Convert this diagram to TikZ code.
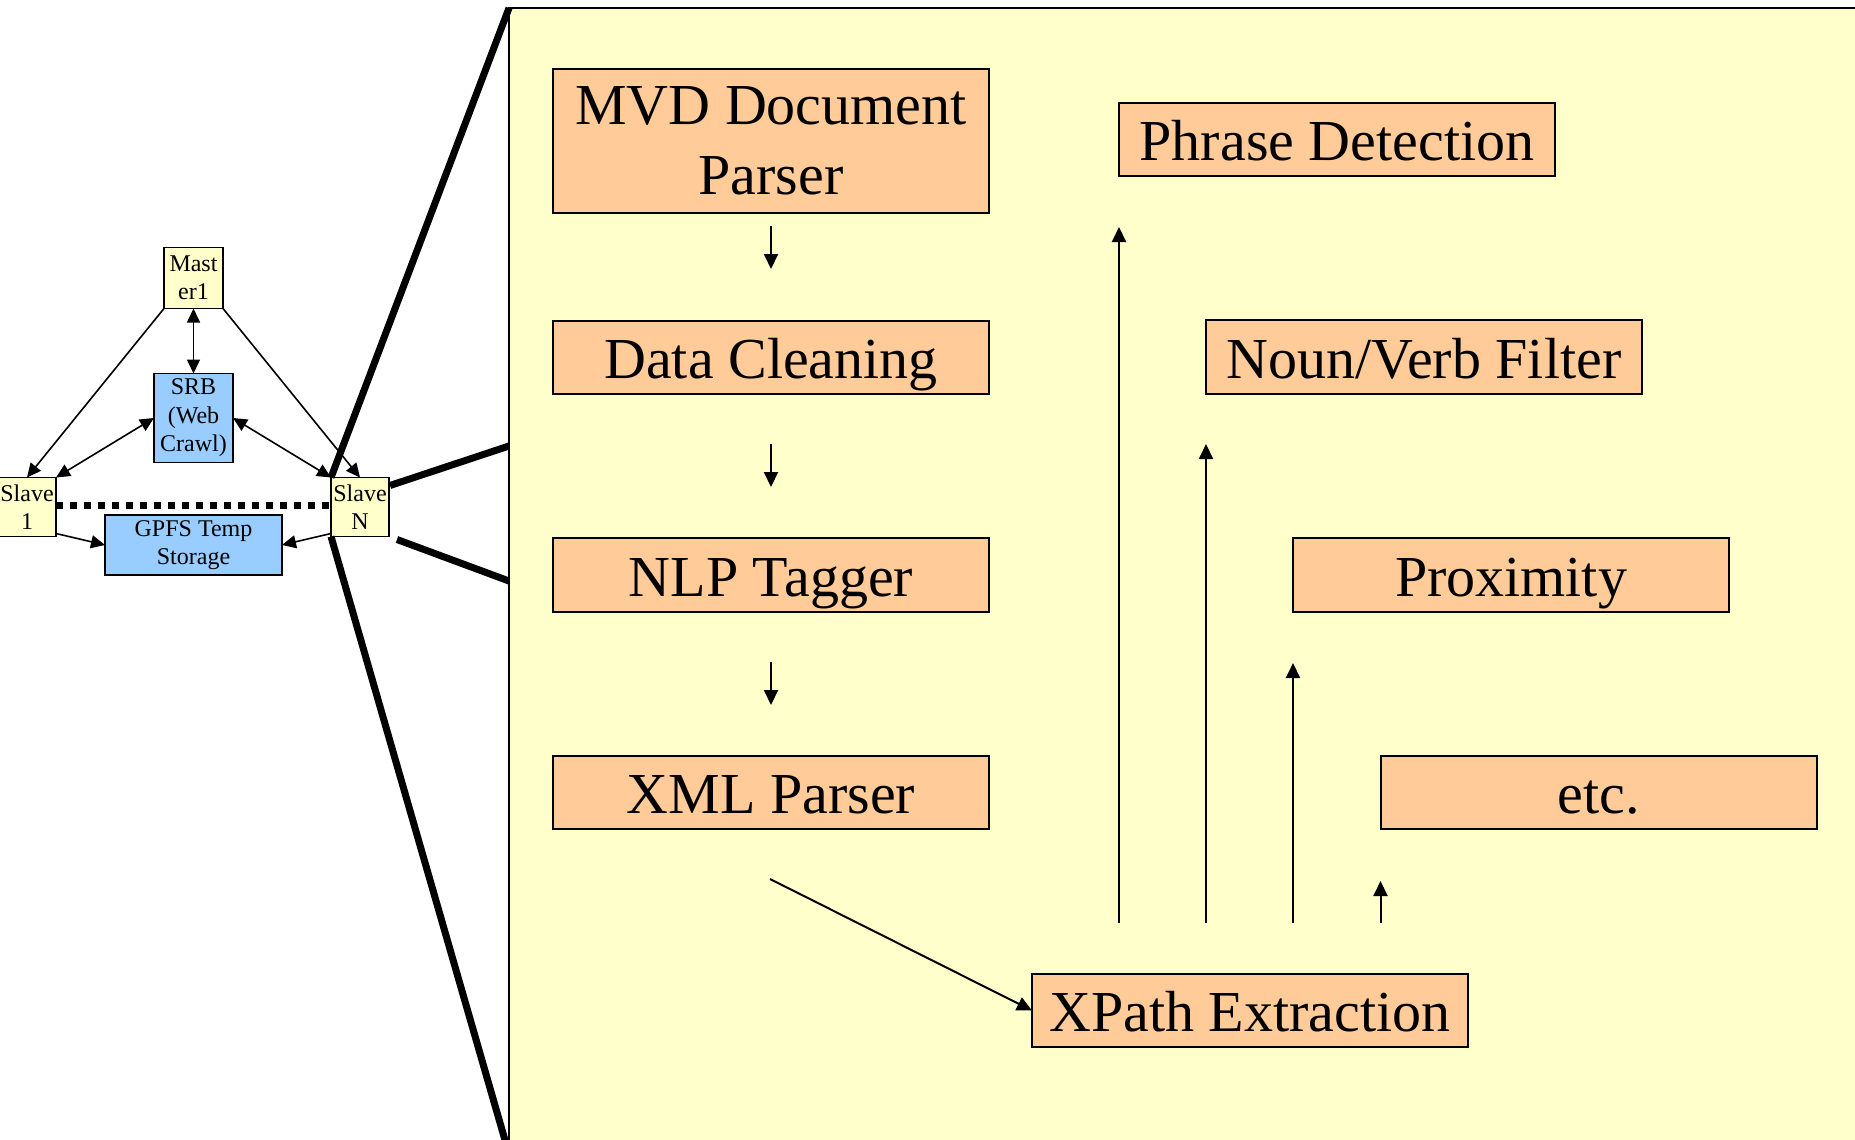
\documentclass[tikz,border=0pt]{standalone}
\usepackage{fontspec}
\setmainfont{Liberation Serif}
\usetikzlibrary{arrows.meta,calc}
\definecolor{paleyellow}{HTML}{FFFFCC}
\definecolor{peach}{HTML}{FFCC99}
\definecolor{skyblue}{HTML}{99CCFF}

\begin{document}
\begin{tikzpicture}[x=1pt,y=-1pt,
  smallbox/.style={draw=black, line width=1.8pt, inner sep=0pt, outer sep=0pt, align=center,
    font=\fontsize{24}{28.5}\selectfont},
  hostbox/.style={smallbox, fill=paleyellow, minimum width=58pt, minimum height=59pt},
  storebox/.style={smallbox, fill=skyblue},
  stagebox/.style={draw=black, line width=2pt, fill=peach, inner sep=0pt, outer sep=0pt,
    align=center, minimum width=436pt, minimum height=73pt, font=\fontsize{58}{70}\selectfont},
  stageline/.style={stagebox, text height=44pt, text depth=2pt},
  panelbox/.style={draw=black, line width=1.8pt, fill=paleyellow, inner sep=0pt, outer sep=0pt},
  link/.style={line width=1.6pt, -{Triangle[length=14pt,width=13pt]}},
  dlink/.style={line width=1.6pt, {Triangle[length=14pt,width=13pt]}-{Triangle[length=14pt,width=13pt]}},
  flow/.style={line width=2pt, -{Triangle[length=15pt,width=14pt]}},
  callout/.style={line width=7pt},
  cluster/.style={line width=6.5pt, dash pattern=on 7pt off 7pt},
]
\useasboundingbox (0,0) rectangle (1855,1140);
\clip (0,0) rectangle (1855,1140);

% ---- magnified panel ----
\node[panelbox, anchor=north west, minimum width=1361pt, minimum height=1146pt] (panel) at (509,8) {};

% ---- cluster nodes ----
\node[hostbox, minimum width=59pt, minimum height=61pt] (master) at (193.5,278) {Mast\\er1};
\node[storebox, minimum width=79pt, minimum height=89pt] (srb) at (193.5,418) {SRB\\(Web\\Crawl)};
\node[hostbox] (slave1) at (27,507) {Slave\\1};
\node[hostbox] (slaveN) at (360,507) {Slave\\N};
\node[storebox, minimum width=177pt, minimum height=60pt] (gpfs) at (193.5,545) {GPFS Temp\\Storage};

% ---- cluster connectors ----
\draw[link] (master.south west) -- (slave1.north);
\draw[link] (master.south east) -- (slaveN.north);
\draw[dlink] (master.south) -- (srb.north);
\draw[dlink] (srb.west) -- (slave1.north east);
\draw[dlink] (srb.east) -- (slaveN.north west);
\draw[link] ($(slave1.south east)+(0,-3)$) -- (gpfs.west);
\draw[link] ($(slaveN.south west)+(0,-3)$) -- (gpfs.east);
\draw[cluster] ($(slave1.east)+(0,-1.5)$) -- ($(slaveN.west)+(0,-1.5)$);

% callout lines from Slave N to the panel
\draw[callout] (slaveN.north west) -- (panel.north west);
\draw[callout] (slaveN.south west) -- (panel.south west);
\draw[callout] ($(slaveN.north east)+(1,8)$) -- ($(panel.west)+(0,-135)$);
\draw[callout] ($(slaveN.south east)+(8,3)$) -- (panel.west);

% ---- processing stages ----
\node[stagebox, minimum height=144pt] (mvd) at (771,141) {MVD Document\\Parser};
\node[stageline] (clean) at (771,357.5) {Data Cleaning};
\node[stageline, minimum height=74pt] (nlp) at (771,575) {NLP Tagger};
\node[stageline] (xml) at (771,792.5) {XML Parser};

\node[stageline] (phrase) at (1337,139.5) {Phrase Detection};
\node[stageline, minimum height=74pt] (noun) at (1424,357) {Noun/Verb Filter};
\node[stageline, minimum height=74pt] (prox) at (1511,575) {Proximity};
\node[stageline] (etc) at (1598.5,792.5) {etc.};
\node[stageline] (xpath) at (1250,1010.5) {XPath Extraction};

% ---- stage connectors ----
\draw[flow, shorten <=13pt, shorten >=52pt] (mvd.south) -- (clean.north);
\draw[flow, shorten <=50pt, shorten >=51pt] (clean.south) -- (nlp.north);
\draw[flow, shorten <=50pt, shorten >=51pt] (nlp.south) -- (xml.north);
\coordinate (xmlout) at ($(xml.south)+(-1,50)$);
\draw[flow] (xmlout) -- (xpath.west);

\draw[flow, shorten <=51pt, shorten >=51pt] (phrase.south west |- xpath.north) -- (phrase.south west);
\draw[flow, shorten <=51pt, shorten >=50pt] (noun.south west |- xpath.north) -- (noun.south west);
\draw[flow, shorten <=51pt, shorten >=51pt] (prox.south west |- xpath.north) -- (prox.south west);
\draw[flow, shorten <=51pt, shorten >=52pt] (etc.south west |- xpath.north) -- (etc.south west);
\end{tikzpicture}
\end{document}
